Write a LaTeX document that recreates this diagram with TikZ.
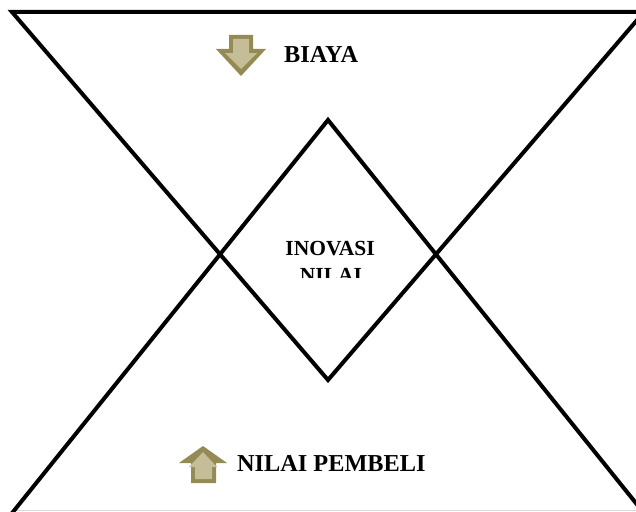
\documentclass[tikz,border=0pt]{standalone}
\usepackage{fontspec}
\setmainfont{Liberation Serif}
\definecolor{olivedark}{HTML}{948A54}
\definecolor{olivelight}{HTML}{C4BD97}
\definecolor{faintgray}{HTML}{DADADA}
\tikzset{
  bigline/.style={line width=4pt, black, line join=miter},
  lbl/.style={inner sep=0pt, font=\bfseries\fontsize{24.3}{28}\selectfont, text=black},
  midlbl/.style={inner sep=0pt, font=\bfseries\fontsize{21.5}{26}\selectfont, text=black},
  arrowout/.style={fill=olivedark},
  arrowin/.style={fill=olivelight},
}
\begin{document}
\begin{tikzpicture}[x=1pt,y=-1pt]
\useasboundingbox (0,0) rectangle (636,511);
\fill[white] (0,0) rectangle (636,511);
\begin{scope}
\clip (0,0) rectangle (636,511);
% faint bottom edge line
\draw[faintgray, line width=1pt] (15,510) -- (636,510);
% top triangle
\coordinate (tl) at (12,12);
\coordinate (tr) at (644,12);
\coordinate (tb) at (328,380);
\draw[bigline] (tl) -- (tr) -- (tb) -- cycle;
% bottom triangle
\coordinate (ba) at (328,120);
\coordinate (bl) at (6.5,520);
\coordinate (br) at (649.5,520);
\draw[bigline] (ba) -- (br) -- (bl) -- cycle;
\end{scope}
% down arrow (BIAYA)
\fill[arrowout] (229,35) -- (253,35) -- (253,49) -- (266,49) -- (241,76) -- (216,49) -- (229,49) -- cycle;
\fill[arrowin] (233,39) -- (249,39) -- (249,53) -- (257,53) -- (241,69) -- (225,53) -- (233,53) -- cycle;
% up arrow (NILAI PEMBELI)
\fill[arrowout] (203,446) -- (227,463) -- (216,463) -- (216,483) -- (191,483) -- (191,463) -- (179,463) -- cycle;
\fill[arrowin] (203,452) -- (217,467) -- (212,467) -- (212,479) -- (195,479) -- (195,467) -- (189,467) -- cycle;
% labels
\node[lbl, anchor=base west] (biaya) at (284,63) {BIAYA};
\node[lbl, anchor=base west] (pembeli) at (237,471) {NILAI PEMBELI};
\node[midlbl, anchor=base] (inovasi) at (330,255) {INOVASI};
\begin{scope}
\clip (280,258) rectangle (380,277);
\node[midlbl, anchor=base] (nilai) at (331,282) {NILAI};
\end{scope}
\end{tikzpicture}
\end{document}
